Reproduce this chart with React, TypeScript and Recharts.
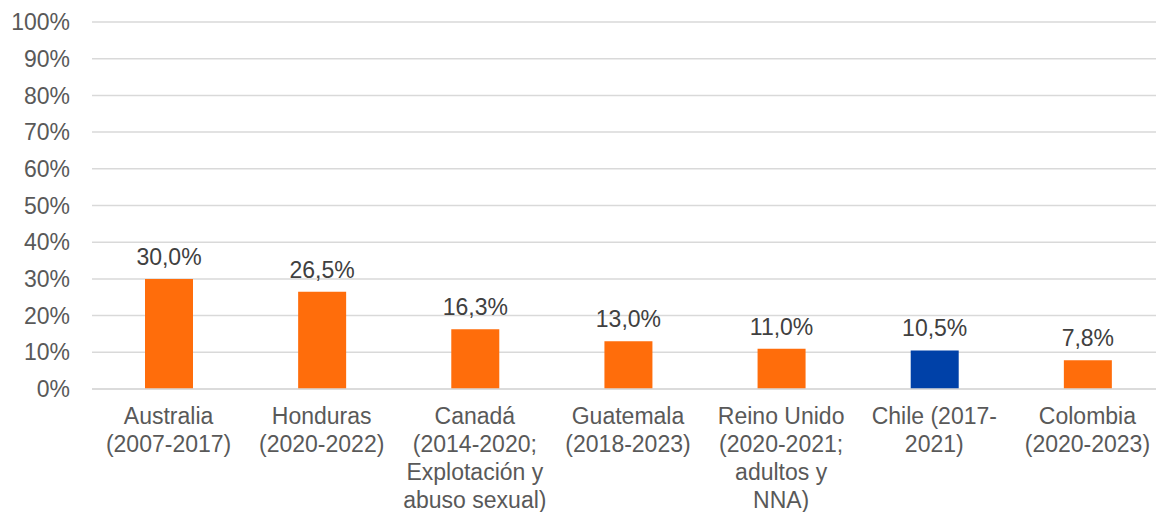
import React from 'react';
import { BarChart, Bar, XAxis, YAxis, CartesianGrid, Cell, LabelList } from 'recharts';

const categories = ['Australia', 'Honduras', 'Canadá', 'Guatemala', 'Reino Unido', 'Chile', 'Colombia'];
const labelLines = [
    ['Australia', '(2007-2017)'],
    ['Honduras', '(2020-2022)'],
    ['Canadá', '(2014-2020;', 'Explotación y', 'abuso sexual)'],
    ['Guatemala', '(2018-2023)'],
    ['Reino Unido', '(2020-2021;', 'adultos y', 'NNA)'],
    ['Chile (2017-', '2021)'],
    ['Colombia', '(2020-2023)'],
];
const values = [30.0, 26.5, 16.3, 13.0, 11.0, 10.5, 7.8];
const highlight = 'Chile';
const yTicks = [0, 10, 20, 30, 40, 50, 60, 70, 80, 90, 100];

const ORANGE = '#FF6D0B';
const BLUE = '#0041A8';
const FONT = '"Liberation Sans", Arial, sans-serif';

const data = categories.map((name, i) => ({ name, lines: labelLines[i], value: values[i] }));

const fmt = (v: number) => `${v.toFixed(1).replace('.', ',')}%`;

// multi-line category label under each bar
const CategoryTick = ({ x, y, payload }: any) => {
    const lines = labelLines[payload.index] || [payload.value];
    return (
        <text x={x} y={y} textAnchor="middle" fill="#595959" fontSize={23} fontFamily={FONT}>
            {lines.map((l: string, i: number) => (
                <tspan key={i} x={x} dy={i === 0 ? 27 : 28}>{l}</tspan>
            ))}
        </text>
    );
};

export default function App() {
    return (
        <div style={{ position: 'absolute', left: 0, top: 0, width: 1156, height: 512, background: '#fff', overflow: 'hidden' }}>
            <BarChart
                width={1156}
                height={512}
                data={data}
                margin={{ top: 22, right: -8, bottom: 0, left: 0 }}
                barSize={48}
            >
                <CartesianGrid vertical={false} stroke="#D9D9D9" strokeWidth={1.5} />
                <XAxis
                    dataKey="name"
                    axisLine={{ stroke: '#D9D9D9', strokeWidth: 1.5 }}
                    tickLine={false}
                    interval={0}
                    height={123}
                    tick={<CategoryTick />}
                />
                <YAxis
                    domain={[0, 100]}
                    ticks={yTicks}
                    width={92}
                    axisLine={false}
                    tickLine={false}
                    tickMargin={16}
                    tickFormatter={(v: number) => `${v}%`}
                    tick={{ fill: '#595959', fontSize: 23, fontFamily: FONT }}
                />
                <Bar dataKey="value" isAnimationActive={false}>
                    {data.map((d, i) => (
                        <Cell key={i} fill={d.name === highlight ? BLUE : ORANGE} />
                    ))}
                    <LabelList
                        dataKey="value"
                        position="top"
                        offset={14}
                        formatter={(v: any) => fmt(Number(v))}
                        style={{ fill: '#404040', fontSize: 23, fontFamily: FONT }}
                    />
                </Bar>
            </BarChart>
        </div>
    );
}
